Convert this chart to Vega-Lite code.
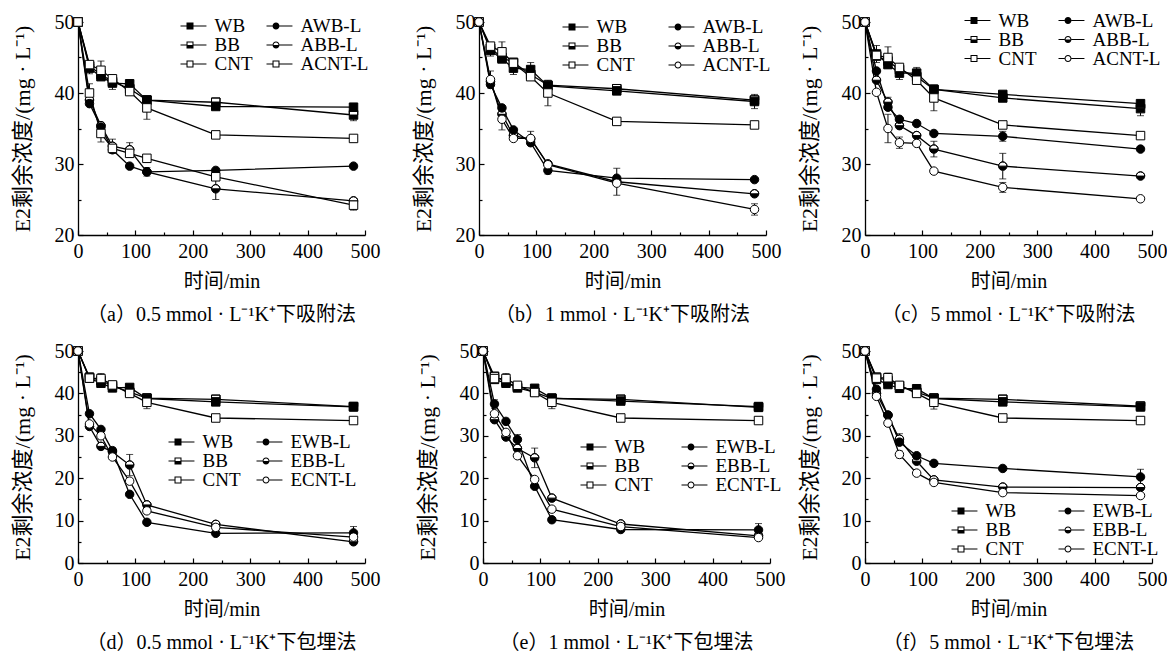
{
"$schema": "https://vega.github.io/schema/vega-lite/v6.json",
"padding": {"left": 11, "top": 12, "right": 0, "bottom": 0},
"background": "white",
"config": {
 "view": {"stroke": null},
 "font": "Liberation Serif, Noto Sans CJK SC",
 "axis": {"domainColor": "black", "domainWidth": 1.3, "tickColor": "black", "tickWidth": 1.2, "labelFont": "Liberation Serif", "labelFontSize": 20, "labelColor": "black", "titleFont": "Liberation Serif, Noto Sans CJK SC", "titleFontSize": 20, "titleFontWeight": "normal", "titleColor": "black", "grid": false, "labelFlush": false, "labelOverlap": false},
 "axisY": {"titleFontSize": 22},
 "title": {"font": "Liberation Serif, Noto Sans CJK SC", "fontSize": 20, "fontWeight": "normal", "color": "black", "orient": "bottom", "offset": 14, "anchor": "middle"},
 "legend": {"labelFont": "Liberation Serif", "labelFontSize": 19, "labelColor": "black", "symbolSize": 49, "labelOffset": 15, "rowPadding": 0, "clipHeight": 16, "padding": 0, "columns": 2, "orient": "none", "title": null, "symbolOpacity": 1, "symbolStrokeWidth": 0, "symbolFillColor": "black"}
},
"datasets": {"d": [
{"p":"a","s":"WB","t":0,"v":50},{"p":"a","s":"WB","t":20,"v":43.5,"e":0.8},{"p":"a","s":"WB","t":40,"v":42.3},{"p":"a","s":"WB","t":60,"v":41.4,"e":0.9},{"p":"a","s":"WB","t":90,"v":41.3},{"p":"a","s":"WB","t":120,"v":39.0},{"p":"a","s":"WB","t":240,"v":38.1},{"p":"a","s":"WB","t":480,"v":38.0},
{"p":"a","s":"BB","t":0,"v":50},{"p":"a","s":"BB","t":20,"v":43.8},{"p":"a","s":"BB","t":40,"v":42.6},{"p":"a","s":"BB","t":60,"v":41.6},{"p":"a","s":"BB","t":90,"v":40.6},{"p":"a","s":"BB","t":120,"v":39.0},{"p":"a","s":"BB","t":240,"v":38.7},{"p":"a","s":"BB","t":480,"v":36.9,"e":0.8},
{"p":"a","s":"CNT","t":0,"v":50},{"p":"a","s":"CNT","t":20,"v":44.0},{"p":"a","s":"CNT","t":40,"v":43.2,"e":1.3},{"p":"a","s":"CNT","t":60,"v":42.0},{"p":"a","s":"CNT","t":90,"v":40.2},{"p":"a","s":"CNT","t":120,"v":37.9,"e":1.6},{"p":"a","s":"CNT","t":240,"v":34.1},{"p":"a","s":"CNT","t":480,"v":33.6},
{"p":"a","s":"AWB-L","t":0,"v":50},{"p":"a","s":"AWB-L","t":20,"v":38.5},{"p":"a","s":"AWB-L","t":40,"v":35.2},{"p":"a","s":"AWB-L","t":60,"v":32.0},{"p":"a","s":"AWB-L","t":90,"v":29.7},{"p":"a","s":"AWB-L","t":120,"v":28.9,"e":0.6},{"p":"a","s":"AWB-L","t":240,"v":29.1},{"p":"a","s":"AWB-L","t":480,"v":29.7},
{"p":"a","s":"ABB-L","t":0,"v":50},{"p":"a","s":"ABB-L","t":20,"v":39.0},{"p":"a","s":"ABB-L","t":40,"v":35.4},{"p":"a","s":"ABB-L","t":60,"v":32.5,"e":1.0},{"p":"a","s":"ABB-L","t":90,"v":32.0,"e":1.0},{"p":"a","s":"ABB-L","t":120,"v":28.9},{"p":"a","s":"ABB-L","t":240,"v":26.5,"e":1.5},{"p":"a","s":"ABB-L","t":480,"v":24.8},
{"p":"a","s":"ACNT-L","t":0,"v":50},{"p":"a","s":"ACNT-L","t":20,"v":40.0,"e":1.3},{"p":"a","s":"ACNT-L","t":40,"v":34.3,"e":1.2},{"p":"a","s":"ACNT-L","t":60,"v":32.2},{"p":"a","s":"ACNT-L","t":90,"v":31.5},{"p":"a","s":"ACNT-L","t":120,"v":30.8},{"p":"a","s":"ACNT-L","t":240,"v":28.2},{"p":"a","s":"ACNT-L","t":480,"v":24.2,"e":0.7},
{"p":"b","s":"WB","t":0,"v":50},{"p":"b","s":"WB","t":20,"v":46.0,"e":0.8},{"p":"b","s":"WB","t":40,"v":44.8},{"p":"b","s":"WB","t":60,"v":43.5,"e":0.9},{"p":"b","s":"WB","t":90,"v":43.3,"e":1.0},{"p":"b","s":"WB","t":120,"v":41.0},{"p":"b","s":"WB","t":240,"v":40.3},{"p":"b","s":"WB","t":480,"v":38.8,"e":1.0},
{"p":"b","s":"BB","t":0,"v":50},{"p":"b","s":"BB","t":20,"v":46.3},{"p":"b","s":"BB","t":40,"v":45.0},{"p":"b","s":"BB","t":60,"v":44.3},{"p":"b","s":"BB","t":90,"v":42.6},{"p":"b","s":"BB","t":120,"v":41.1},{"p":"b","s":"BB","t":240,"v":40.6},{"p":"b","s":"BB","t":480,"v":39.0},
{"p":"b","s":"CNT","t":0,"v":50},{"p":"b","s":"CNT","t":20,"v":46.6},{"p":"b","s":"CNT","t":40,"v":45.8,"e":1.4},{"p":"b","s":"CNT","t":60,"v":44.2},{"p":"b","s":"CNT","t":90,"v":42.3},{"p":"b","s":"CNT","t":120,"v":40.0,"e":1.8},{"p":"b","s":"CNT","t":240,"v":36.0},{"p":"b","s":"CNT","t":480,"v":35.5},
{"p":"b","s":"AWB-L","t":0,"v":50},{"p":"b","s":"AWB-L","t":20,"v":41.2},{"p":"b","s":"AWB-L","t":40,"v":37.9},{"p":"b","s":"AWB-L","t":60,"v":34.8},{"p":"b","s":"AWB-L","t":90,"v":33.0},{"p":"b","s":"AWB-L","t":120,"v":29.1,"e":0.5},{"p":"b","s":"AWB-L","t":240,"v":28.0},{"p":"b","s":"AWB-L","t":480,"v":27.8},
{"p":"b","s":"ABB-L","t":0,"v":50},{"p":"b","s":"ABB-L","t":20,"v":41.6},{"p":"b","s":"ABB-L","t":40,"v":37.0},{"p":"b","s":"ABB-L","t":60,"v":34.0},{"p":"b","s":"ABB-L","t":90,"v":33.5},{"p":"b","s":"ABB-L","t":120,"v":30.0},{"p":"b","s":"ABB-L","t":240,"v":27.5,"e":1.9},{"p":"b","s":"ABB-L","t":480,"v":25.8},
{"p":"b","s":"ACNT-L","t":0,"v":50},{"p":"b","s":"ACNT-L","t":20,"v":41.9,"e":1.2},{"p":"b","s":"ACNT-L","t":40,"v":36.3,"e":1.5},{"p":"b","s":"ACNT-L","t":60,"v":33.6},{"p":"b","s":"ACNT-L","t":90,"v":33.6,"e":1.0},{"p":"b","s":"ACNT-L","t":120,"v":29.9},{"p":"b","s":"ACNT-L","t":240,"v":27.3},{"p":"b","s":"ACNT-L","t":480,"v":23.6,"e":0.8},
{"p":"c","s":"WB","t":0,"v":50},{"p":"c","s":"WB","t":20,"v":45.5,"e":1.2},{"p":"c","s":"WB","t":40,"v":44.0},{"p":"c","s":"WB","t":60,"v":42.8,"e":0.9},{"p":"c","s":"WB","t":90,"v":42.8,"e":0.8},{"p":"c","s":"WB","t":120,"v":40.5},{"p":"c","s":"WB","t":240,"v":39.8},{"p":"c","s":"WB","t":480,"v":38.5},
{"p":"c","s":"BB","t":0,"v":50},{"p":"c","s":"BB","t":20,"v":45.2},{"p":"c","s":"BB","t":40,"v":44.5},{"p":"c","s":"BB","t":60,"v":43.3},{"p":"c","s":"BB","t":90,"v":42.3},{"p":"c","s":"BB","t":120,"v":40.5},{"p":"c","s":"BB","t":240,"v":39.3},{"p":"c","s":"BB","t":480,"v":37.8,"e":1.0},
{"p":"c","s":"CNT","t":0,"v":50},{"p":"c","s":"CNT","t":20,"v":45.3},{"p":"c","s":"CNT","t":40,"v":45.0,"e":1.5},{"p":"c","s":"CNT","t":60,"v":43.6},{"p":"c","s":"CNT","t":90,"v":41.8},{"p":"c","s":"CNT","t":120,"v":39.3,"e":1.8},{"p":"c","s":"CNT","t":240,"v":35.5},{"p":"c","s":"CNT","t":480,"v":34.0},
{"p":"c","s":"AWB-L","t":0,"v":50},{"p":"c","s":"AWB-L","t":20,"v":43.1},{"p":"c","s":"AWB-L","t":40,"v":38.0},{"p":"c","s":"AWB-L","t":60,"v":36.3},{"p":"c","s":"AWB-L","t":90,"v":35.7},{"p":"c","s":"AWB-L","t":120,"v":34.3},{"p":"c","s":"AWB-L","t":240,"v":33.9,"e":0.7},{"p":"c","s":"AWB-L","t":480,"v":32.1},
{"p":"c","s":"ABB-L","t":0,"v":50},{"p":"c","s":"ABB-L","t":20,"v":41.8},{"p":"c","s":"ABB-L","t":40,"v":38.7,"e":0.7},{"p":"c","s":"ABB-L","t":60,"v":35.4},{"p":"c","s":"ABB-L","t":90,"v":34.0},{"p":"c","s":"ABB-L","t":120,"v":32.1,"e":1.1},{"p":"c","s":"ABB-L","t":240,"v":29.7,"e":1.8},{"p":"c","s":"ABB-L","t":480,"v":28.3},
{"p":"c","s":"ACNT-L","t":0,"v":50},{"p":"c","s":"ACNT-L","t":20,"v":40.1},{"p":"c","s":"ACNT-L","t":40,"v":35.0,"e":2.0},{"p":"c","s":"ACNT-L","t":60,"v":33.0,"e":0.8},{"p":"c","s":"ACNT-L","t":90,"v":32.9},{"p":"c","s":"ACNT-L","t":120,"v":29.0},{"p":"c","s":"ACNT-L","t":240,"v":26.7,"e":0.7},{"p":"c","s":"ACNT-L","t":480,"v":25.1},
{"p":"d","s":"WB","t":0,"v":50},{"p":"d","s":"WB","t":20,"v":43.6},{"p":"d","s":"WB","t":40,"v":42.4},{"p":"d","s":"WB","t":60,"v":41.3},{"p":"d","s":"WB","t":90,"v":41.4},{"p":"d","s":"WB","t":120,"v":38.8},{"p":"d","s":"WB","t":240,"v":38.0},{"p":"d","s":"WB","t":480,"v":36.8,"e":0.7},
{"p":"d","s":"BB","t":0,"v":50},{"p":"d","s":"BB","t":20,"v":43.8},{"p":"d","s":"BB","t":40,"v":43.0},{"p":"d","s":"BB","t":60,"v":41.8},{"p":"d","s":"BB","t":90,"v":40.3},{"p":"d","s":"BB","t":120,"v":38.9},{"p":"d","s":"BB","t":240,"v":38.6},{"p":"d","s":"BB","t":480,"v":36.9},
{"p":"d","s":"CNT","t":0,"v":50},{"p":"d","s":"CNT","t":20,"v":43.6},{"p":"d","s":"CNT","t":40,"v":43.5,"e":1.2},{"p":"d","s":"CNT","t":60,"v":42.0},{"p":"d","s":"CNT","t":90,"v":40.0},{"p":"d","s":"CNT","t":120,"v":37.9,"e":1.5},{"p":"d","s":"CNT","t":240,"v":34.2},{"p":"d","s":"CNT","t":480,"v":33.6},
{"p":"d","s":"EWB-L","t":0,"v":50},{"p":"d","s":"EWB-L","t":20,"v":35.2},{"p":"d","s":"EWB-L","t":40,"v":31.5},{"p":"d","s":"EWB-L","t":60,"v":26.5},{"p":"d","s":"EWB-L","t":90,"v":16.2},{"p":"d","s":"EWB-L","t":120,"v":9.6},{"p":"d","s":"EWB-L","t":240,"v":7.0},{"p":"d","s":"EWB-L","t":480,"v":7.1,"e":1.5},
{"p":"d","s":"EBB-L","t":0,"v":50},{"p":"d","s":"EBB-L","t":20,"v":32.2},{"p":"d","s":"EBB-L","t":40,"v":27.5},{"p":"d","s":"EBB-L","t":60,"v":26.2,"e":1.0},{"p":"d","s":"EBB-L","t":90,"v":23.1,"e":2.5},{"p":"d","s":"EBB-L","t":120,"v":13.7},{"p":"d","s":"EBB-L","t":240,"v":9.1},{"p":"d","s":"EBB-L","t":480,"v":5.0},
{"p":"d","s":"ECNT-L","t":0,"v":50},{"p":"d","s":"ECNT-L","t":20,"v":32.8},{"p":"d","s":"ECNT-L","t":40,"v":30.0},{"p":"d","s":"ECNT-L","t":60,"v":25.0},{"p":"d","s":"ECNT-L","t":90,"v":19.3},{"p":"d","s":"ECNT-L","t":120,"v":12.3},{"p":"d","s":"ECNT-L","t":240,"v":8.4},{"p":"d","s":"ECNT-L","t":480,"v":6.1},
{"p":"e","s":"WB","t":0,"v":50},{"p":"e","s":"WB","t":20,"v":43.3},{"p":"e","s":"WB","t":40,"v":42.4},{"p":"e","s":"WB","t":60,"v":41.5},{"p":"e","s":"WB","t":90,"v":41.2},{"p":"e","s":"WB","t":120,"v":38.9},{"p":"e","s":"WB","t":240,"v":38.2},{"p":"e","s":"WB","t":480,"v":36.9},
{"p":"e","s":"BB","t":0,"v":50},{"p":"e","s":"BB","t":20,"v":44.0},{"p":"e","s":"BB","t":40,"v":42.8},{"p":"e","s":"BB","t":60,"v":41.3},{"p":"e","s":"BB","t":90,"v":40.3},{"p":"e","s":"BB","t":120,"v":38.8},{"p":"e","s":"BB","t":240,"v":38.6},{"p":"e","s":"BB","t":480,"v":36.7},
{"p":"e","s":"CNT","t":0,"v":50},{"p":"e","s":"CNT","t":20,"v":43.5},{"p":"e","s":"CNT","t":40,"v":43.5,"e":1.2},{"p":"e","s":"CNT","t":60,"v":41.9},{"p":"e","s":"CNT","t":90,"v":40.2},{"p":"e","s":"CNT","t":120,"v":37.9,"e":1.5},{"p":"e","s":"CNT","t":240,"v":34.2},{"p":"e","s":"CNT","t":480,"v":33.6},
{"p":"e","s":"EWB-L","t":0,"v":50},{"p":"e","s":"EWB-L","t":20,"v":37.5,"e":1.0},{"p":"e","s":"EWB-L","t":40,"v":33.4},{"p":"e","s":"EWB-L","t":60,"v":29.1,"e":1.2},{"p":"e","s":"EWB-L","t":90,"v":18.1},{"p":"e","s":"EWB-L","t":120,"v":10.2},{"p":"e","s":"EWB-L","t":240,"v":7.9},{"p":"e","s":"EWB-L","t":480,"v":7.8,"e":1.5},
{"p":"e","s":"EBB-L","t":0,"v":50},{"p":"e","s":"EBB-L","t":20,"v":33.8},{"p":"e","s":"EBB-L","t":40,"v":29.7},{"p":"e","s":"EBB-L","t":60,"v":27.0},{"p":"e","s":"EBB-L","t":90,"v":24.8,"e":2.3},{"p":"e","s":"EBB-L","t":120,"v":15.3},{"p":"e","s":"EBB-L","t":240,"v":9.2},{"p":"e","s":"EBB-L","t":480,"v":6.4},
{"p":"e","s":"ECNT-L","t":0,"v":50},{"p":"e","s":"ECNT-L","t":20,"v":35.2},{"p":"e","s":"ECNT-L","t":40,"v":30.8},{"p":"e","s":"ECNT-L","t":60,"v":25.3},{"p":"e","s":"ECNT-L","t":90,"v":19.7},{"p":"e","s":"ECNT-L","t":120,"v":12.7},{"p":"e","s":"ECNT-L","t":240,"v":8.6},{"p":"e","s":"ECNT-L","t":480,"v":6.0},
{"p":"f","s":"WB","t":0,"v":50},{"p":"f","s":"WB","t":20,"v":43.3},{"p":"f","s":"WB","t":40,"v":42.1},{"p":"f","s":"WB","t":60,"v":41.2},{"p":"f","s":"WB","t":90,"v":41.1},{"p":"f","s":"WB","t":120,"v":38.8},{"p":"f","s":"WB","t":240,"v":38.0},{"p":"f","s":"WB","t":480,"v":36.8},
{"p":"f","s":"BB","t":0,"v":50},{"p":"f","s":"BB","t":20,"v":43.8},{"p":"f","s":"BB","t":40,"v":43.0},{"p":"f","s":"BB","t":60,"v":41.8},{"p":"f","s":"BB","t":90,"v":40.3},{"p":"f","s":"BB","t":120,"v":38.9},{"p":"f","s":"BB","t":240,"v":38.6},{"p":"f","s":"BB","t":480,"v":37.0},
{"p":"f","s":"CNT","t":0,"v":50},{"p":"f","s":"CNT","t":20,"v":43.6},{"p":"f","s":"CNT","t":40,"v":43.7,"e":1.1},{"p":"f","s":"CNT","t":60,"v":41.9},{"p":"f","s":"CNT","t":90,"v":40.0},{"p":"f","s":"CNT","t":120,"v":37.9,"e":1.6},{"p":"f","s":"CNT","t":240,"v":34.2},{"p":"f","s":"CNT","t":480,"v":33.6},
{"p":"f","s":"EWB-L","t":0,"v":50},{"p":"f","s":"EWB-L","t":20,"v":41.0},{"p":"f","s":"EWB-L","t":40,"v":34.9},{"p":"f","s":"EWB-L","t":60,"v":28.5},{"p":"f","s":"EWB-L","t":90,"v":25.3},{"p":"f","s":"EWB-L","t":120,"v":23.5},{"p":"f","s":"EWB-L","t":240,"v":22.3},{"p":"f","s":"EWB-L","t":480,"v":20.3,"e":1.8},
{"p":"f","s":"EBB-L","t":0,"v":50},{"p":"f","s":"EBB-L","t":20,"v":40.0},{"p":"f","s":"EBB-L","t":40,"v":34.8},{"p":"f","s":"EBB-L","t":60,"v":29.2,"e":1.3},{"p":"f","s":"EBB-L","t":90,"v":24.0},{"p":"f","s":"EBB-L","t":120,"v":19.6},{"p":"f","s":"EBB-L","t":240,"v":17.9},{"p":"f","s":"EBB-L","t":480,"v":17.8},
{"p":"f","s":"ECNT-L","t":0,"v":50},{"p":"f","s":"ECNT-L","t":20,"v":39.3},{"p":"f","s":"ECNT-L","t":40,"v":33.0},{"p":"f","s":"ECNT-L","t":60,"v":25.6,"e":0.8},{"p":"f","s":"ECNT-L","t":90,"v":21.2},{"p":"f","s":"ECNT-L","t":120,"v":19.0},{"p":"f","s":"ECNT-L","t":240,"v":16.6},{"p":"f","s":"ECNT-L","t":480,"v":15.9}
]},
"resolve": {"scale": {"x": "independent", "y": "independent", "shape": "independent", "fill": "independent"}, "legend": {"shape": "independent", "fill": "independent"}},
"spacing": 16,
"vconcat": [
{"hconcat": [
 {"hconcat": [
  {"width": 287, "height": 213, "title": {"text": "（a）0.5 mmol · L⁻¹K⁺下吸附法"},
   "data": {"name": "d"}, "transform": [{"filter": "datum.p == 'a'"}],
   "encoding": {
    "x": {"field": "t", "type": "quantitative", "scale": {"domain": [0, 500]}, "axis": {"title": "时间/min", "values": [0,50,100,150,200,250,300,350,400,450,500], "labelExpr": "datum.value % 100 == 0 ? datum.label : ''", "tickSize": {"condition": {"test": "datum.value % 100 != 0", "value": -3}, "value": -5}, "labelPadding": 11, "titlePadding": 8}},
    "y": {"field": "v", "type": "quantitative", "scale": {"domain": [20, 50]}, "axis": {"title": "E2剩余浓度/(mg · L⁻¹)", "values": [20,25,30,35,40,45,50], "labelExpr": "datum.value % 10 == 0 ? datum.label : ''", "tickSize": {"condition": {"test": "datum.value % 10 != 0", "value": -3}, "value": -5}, "labelPadding": 9, "titlePadding": 20}}
   },
   "layer": [
    {"mark": {"type": "line", "color": "black", "strokeWidth": 1.3}, "encoding": {"detail": {"field": "s"}}},
    {"transform": [{"filter": "datum.e > 0"}], "mark": {"type": "errorbar", "color": "black", "thickness": 1, "ticks": {"size": 7, "thickness": 1, "color": "black"}}, "encoding": {"yError": {"field": "e"}}},
    {"transform": [{"filter": "datum.s == 'BB'"}], "mark": {"type": "point", "shape": "square", "filled": true, "fill": "white", "size": 72, "opacity": 1}},
    {"transform": [{"filter": "datum.s == 'ABB-L'"}], "mark": {"type": "point", "shape": "circle", "filled": true, "fill": "white", "size": 72, "opacity": 1}},
    {"mark": {"type": "point", "filled": true, "stroke": "black", "strokeWidth": 1, "size": 72, "opacity": 1},
     "encoding": {
      "shape": {"field": "s", "scale": {"domain": ["WB","BB","CNT","AWB-L","ABB-L","ACNT-L"], "range": ["M-1 -1H1V1H-1Z", "M-1 -1H1V1H-1ZM-1 -1V0H1V-1Z", "M-1 -1H1V1H-1Z", "M-1 0A1 1 0 1 1 1 0A1 1 0 1 1 -1 0Z", "M-1 0A1 1 0 1 1 1 0A1 1 0 1 1 -1 0ZM1 0A1 1 0 0 0 -1 0Z", "M-1 -1H1V1H-1Z"]}, "legend": null},
      "fill": {"field": "s", "scale": {"domain": ["WB","BB","CNT","AWB-L","ABB-L","ACNT-L"], "range": ["black","black","white","black","black","white"]}, "legend": null}
     }},
    {"mark": {"type": "point", "filled": true, "color": "black", "size": 49, "opacity": 0},
     "encoding": {
      "shape": {"field": "s", "scale": {"domain": ["WB","BB","CNT","AWB-L","ABB-L","ACNT-L"], "range": [
        "M-4.7 -0.17H-1V0.17H-4.7ZM1 -0.17H4.7V0.17H1ZM-1 -1H1V1H-1Z",
        "M-4.7 -0.17H-1V0.17H-4.7ZM1 -0.17H4.7V0.17H1ZM-1 -1H1V1H-1ZM-0.7 -0.7V0H0.7V-0.7Z",
        "M-4.7 -0.17H-1V0.17H-4.7ZM1 -0.17H4.7V0.17H1ZM-1 -1H1V1H-1ZM-0.7 -0.7V0.7H0.7V-0.7Z",
        "M-4.7 -0.17H-1V0.17H-4.7ZM1 -0.17H4.7V0.17H1ZM-1 0A1 1 0 1 1 1 0A1 1 0 1 1 -1 0Z",
        "M-4.7 -0.17H-1V0.17H-4.7ZM1 -0.17H4.7V0.17H1ZM-1 0A1 1 0 1 1 1 0A1 1 0 1 1 -1 0ZM0.7 0A0.7 0.7 0 0 0 -0.7 0Z",
        "M-4.7 -0.17H-1V0.17H-4.7ZM1 -0.17H4.7V0.17H1ZM-1 -1H1V1H-1ZM-0.7 -0.7V0.7H0.7V-0.7Z"]},
       "legend": {"legendX": 102.5, "legendY": -4, "columnPadding": 14}}
     }}
   ],
   "resolve": {"scale": {"shape": "independent", "fill": "independent"}}
  },
  {"width": 287, "height": 213, "title": {"text": "（b）1 mmol · L⁻¹K⁺下吸附法"},
   "data": {"name": "d"}, "transform": [{"filter": "datum.p == 'b'"}],
   "encoding": {
    "x": {"field": "t", "type": "quantitative", "scale": {"domain": [0, 500]}, "axis": {"title": "时间/min", "values": [0,50,100,150,200,250,300,350,400,450,500], "labelExpr": "datum.value % 100 == 0 ? datum.label : ''", "tickSize": {"condition": {"test": "datum.value % 100 != 0", "value": -3}, "value": -5}, "labelPadding": 11, "titlePadding": 8}},
    "y": {"field": "v", "type": "quantitative", "scale": {"domain": [20, 50]}, "axis": {"title": "E2剩余浓度/(mg · L⁻¹)", "values": [20,25,30,35,40,45,50], "labelExpr": "datum.value % 10 == 0 ? datum.label : ''", "tickSize": {"condition": {"test": "datum.value % 10 != 0", "value": -3}, "value": -5}, "labelPadding": 9, "titlePadding": 20}}
   },
   "layer": [
    {"mark": {"type": "line", "color": "black", "strokeWidth": 1.3}, "encoding": {"detail": {"field": "s"}}},
    {"transform": [{"filter": "datum.e > 0"}], "mark": {"type": "errorbar", "color": "black", "thickness": 1, "ticks": {"size": 7, "thickness": 1, "color": "black"}}, "encoding": {"yError": {"field": "e"}}},
    {"transform": [{"filter": "datum.s == 'BB'"}], "mark": {"type": "point", "shape": "square", "filled": true, "fill": "white", "size": 72, "opacity": 1}},
    {"transform": [{"filter": "datum.s == 'ABB-L'"}], "mark": {"type": "point", "shape": "circle", "filled": true, "fill": "white", "size": 72, "opacity": 1}},
    {"mark": {"type": "point", "filled": true, "stroke": "black", "strokeWidth": 1, "size": 72, "opacity": 1},
     "encoding": {
      "shape": {"field": "s", "scale": {"domain": ["WB","BB","CNT","AWB-L","ABB-L","ACNT-L"], "range": ["M-1 -1H1V1H-1Z", "M-1 -1H1V1H-1ZM-1 -1V0H1V-1Z", "M-1 -1H1V1H-1Z", "M-1 0A1 1 0 1 1 1 0A1 1 0 1 1 -1 0Z", "M-1 0A1 1 0 1 1 1 0A1 1 0 1 1 -1 0ZM1 0A1 1 0 0 0 -1 0Z", "M-1 0A1 1 0 1 1 1 0A1 1 0 1 1 -1 0Z"]}, "legend": null},
      "fill": {"field": "s", "scale": {"domain": ["WB","BB","CNT","AWB-L","ABB-L","ACNT-L"], "range": ["black","black","white","black","black","white"]}, "legend": null}
     }},
    {"mark": {"type": "point", "filled": true, "color": "black", "size": 49, "opacity": 0},
     "encoding": {
      "shape": {"field": "s", "scale": {"domain": ["WB","BB","CNT","AWB-L","ABB-L","ACNT-L"], "range": [
        "M-4.7 -0.17H-1V0.17H-4.7ZM1 -0.17H4.7V0.17H1ZM-1 -1H1V1H-1Z",
        "M-4.7 -0.17H-1V0.17H-4.7ZM1 -0.17H4.7V0.17H1ZM-1 -1H1V1H-1ZM-0.7 -0.7V0H0.7V-0.7Z",
        "M-4.7 -0.17H-1V0.17H-4.7ZM1 -0.17H4.7V0.17H1ZM-1 -1H1V1H-1ZM-0.7 -0.7V0.7H0.7V-0.7Z",
        "M-4.7 -0.17H-1V0.17H-4.7ZM1 -0.17H4.7V0.17H1ZM-1 0A1 1 0 1 1 1 0A1 1 0 1 1 -1 0Z",
        "M-4.7 -0.17H-1V0.17H-4.7ZM1 -0.17H4.7V0.17H1ZM-1 0A1 1 0 1 1 1 0A1 1 0 1 1 -1 0ZM0.7 0A0.7 0.7 0 0 0 -0.7 0Z",
        "M-4.7 -0.17H-1V0.17H-4.7ZM1 -0.17H4.7V0.17H1ZM-1 0A1 1 0 1 1 1 0A1 1 0 1 1 -1 0ZM0.7 0A0.7 0.7 0 1 0 -0.7 0A0.7 0.7 0 1 0 0.7 0Z"]},
       "legend": {"legendX": 83.5, "legendY": -3, "columnPadding": 34}}
     }}
   ],
   "resolve": {"scale": {"shape": "independent", "fill": "independent"}}
  }
 ], "spacing": 32, "resolve": {"scale": {"x": "independent", "y": "independent", "shape": "independent", "fill": "independent"}, "legend": {"shape": "independent", "fill": "independent"}}},
 {"width": 287, "height": 213, "title": {"text": "（c）5 mmol · L⁻¹K⁺下吸附法"},
   "data": {"name": "d"}, "transform": [{"filter": "datum.p == 'c'"}],
   "encoding": {
    "x": {"field": "t", "type": "quantitative", "scale": {"domain": [0, 500]}, "axis": {"title": "时间/min", "values": [0,50,100,150,200,250,300,350,400,450,500], "labelExpr": "datum.value % 100 == 0 ? datum.label : ''", "tickSize": {"condition": {"test": "datum.value % 100 != 0", "value": -3}, "value": -5}, "labelPadding": 11, "titlePadding": 8}},
    "y": {"field": "v", "type": "quantitative", "scale": {"domain": [20, 50]}, "axis": {"title": "E2剩余浓度/(mg · L⁻¹)", "values": [20,25,30,35,40,45,50], "labelExpr": "datum.value % 10 == 0 ? datum.label : ''", "tickSize": {"condition": {"test": "datum.value % 10 != 0", "value": -3}, "value": -5}, "labelPadding": 9, "titlePadding": 20}}
   },
   "layer": [
    {"mark": {"type": "line", "color": "black", "strokeWidth": 1.3}, "encoding": {"detail": {"field": "s"}}},
    {"transform": [{"filter": "datum.e > 0"}], "mark": {"type": "errorbar", "color": "black", "thickness": 1, "ticks": {"size": 7, "thickness": 1, "color": "black"}}, "encoding": {"yError": {"field": "e"}}},
    {"transform": [{"filter": "datum.s == 'BB'"}], "mark": {"type": "point", "shape": "square", "filled": true, "fill": "white", "size": 72, "opacity": 1}},
    {"transform": [{"filter": "datum.s == 'ABB-L'"}], "mark": {"type": "point", "shape": "circle", "filled": true, "fill": "white", "size": 72, "opacity": 1}},
    {"mark": {"type": "point", "filled": true, "stroke": "black", "strokeWidth": 1, "size": 72, "opacity": 1},
     "encoding": {
      "shape": {"field": "s", "scale": {"domain": ["WB","BB","CNT","AWB-L","ABB-L","ACNT-L"], "range": ["M-1 -1H1V1H-1Z", "M-1 -1H1V1H-1ZM-1 -1V0H1V-1Z", "M-1 -1H1V1H-1Z", "M-1 0A1 1 0 1 1 1 0A1 1 0 1 1 -1 0Z", "M-1 0A1 1 0 1 1 1 0A1 1 0 1 1 -1 0ZM1 0A1 1 0 0 0 -1 0Z", "M-1 0A1 1 0 1 1 1 0A1 1 0 1 1 -1 0Z"]}, "legend": null},
      "fill": {"field": "s", "scale": {"domain": ["WB","BB","CNT","AWB-L","ABB-L","ACNT-L"], "range": ["black","black","white","black","black","white"]}, "legend": null}
     }},
    {"mark": {"type": "point", "filled": true, "color": "black", "size": 49, "opacity": 0},
     "encoding": {
      "shape": {"field": "s", "scale": {"domain": ["WB","BB","CNT","AWB-L","ABB-L","ACNT-L"], "range": [
        "M-4.7 -0.17H-1V0.17H-4.7ZM1 -0.17H4.7V0.17H1ZM-1 -1H1V1H-1Z",
        "M-4.7 -0.17H-1V0.17H-4.7ZM1 -0.17H4.7V0.17H1ZM-1 -1H1V1H-1ZM-0.7 -0.7V0H0.7V-0.7Z",
        "M-4.7 -0.17H-1V0.17H-4.7ZM1 -0.17H4.7V0.17H1ZM-1 -1H1V1H-1ZM-0.7 -0.7V0.7H0.7V-0.7Z",
        "M-4.7 -0.17H-1V0.17H-4.7ZM1 -0.17H4.7V0.17H1ZM-1 0A1 1 0 1 1 1 0A1 1 0 1 1 -1 0Z",
        "M-4.7 -0.17H-1V0.17H-4.7ZM1 -0.17H4.7V0.17H1ZM-1 0A1 1 0 1 1 1 0A1 1 0 1 1 -1 0ZM0.7 0A0.7 0.7 0 0 0 -0.7 0Z",
        "M-4.7 -0.17H-1V0.17H-4.7ZM1 -0.17H4.7V0.17H1ZM-1 0A1 1 0 1 1 1 0A1 1 0 1 1 -1 0ZM0.7 0A0.7 0.7 0 1 0 -0.7 0A0.7 0.7 0 1 0 0.7 0Z"]},
       "legend": {"legendX": 99.5, "legendY": -9.5, "columnPadding": 22}}
     }}
   ],
   "resolve": {"scale": {"shape": "independent", "fill": "independent"}}
  }
], "spacing": 17, "resolve": {"scale": {"x": "independent", "y": "independent", "shape": "independent", "fill": "independent"}, "legend": {"shape": "independent", "fill": "independent"}}},
{"hconcat": [
 {"hconcat": [
  {"width": 287, "height": 212, "title": {"text": "（d）0.5 mmol · L⁻¹K⁺下包埋法"},
   "data": {"name": "d"}, "transform": [{"filter": "datum.p == 'd'"}],
   "encoding": {
    "x": {"field": "t", "type": "quantitative", "scale": {"domain": [0, 500]}, "axis": {"title": "时间/min", "values": [0,50,100,150,200,250,300,350,400,450,500], "labelExpr": "datum.value % 100 == 0 ? datum.label : ''", "tickSize": {"condition": {"test": "datum.value % 100 != 0", "value": -3}, "value": -5}, "labelPadding": 11, "titlePadding": 8}},
    "y": {"field": "v", "type": "quantitative", "scale": {"domain": [0, 50]}, "axis": {"title": "E2剩余浓度/(mg · L⁻¹)", "values": [0,5,10,15,20,25,30,35,40,45,50], "labelExpr": "datum.value % 10 == 0 ? datum.label : ''", "tickSize": {"condition": {"test": "datum.value % 10 != 0", "value": -3}, "value": -5}, "labelPadding": 9, "titlePadding": 20}}
   },
   "layer": [
    {"mark": {"type": "line", "color": "black", "strokeWidth": 1.3}, "encoding": {"detail": {"field": "s"}}},
    {"transform": [{"filter": "datum.e > 0"}], "mark": {"type": "errorbar", "color": "black", "thickness": 1, "ticks": {"size": 7, "thickness": 1, "color": "black"}}, "encoding": {"yError": {"field": "e"}}},
    {"transform": [{"filter": "datum.s == 'BB'"}], "mark": {"type": "point", "shape": "square", "filled": true, "fill": "white", "size": 72, "opacity": 1}},
    {"transform": [{"filter": "datum.s == 'EBB-L'"}], "mark": {"type": "point", "shape": "circle", "filled": true, "fill": "white", "size": 72, "opacity": 1}},
    {"mark": {"type": "point", "filled": true, "stroke": "black", "strokeWidth": 1, "size": 72, "opacity": 1},
     "encoding": {
      "shape": {"field": "s", "scale": {"domain": ["WB","BB","CNT","EWB-L","EBB-L","ECNT-L"], "range": ["M-1 -1H1V1H-1Z", "M-1 -1H1V1H-1ZM-1 -1V0H1V-1Z", "M-1 -1H1V1H-1Z", "M-1 0A1 1 0 1 1 1 0A1 1 0 1 1 -1 0Z", "M-1 0A1 1 0 1 1 1 0A1 1 0 1 1 -1 0ZM1 0A1 1 0 0 0 -1 0Z", "M-1 0A1 1 0 1 1 1 0A1 1 0 1 1 -1 0Z"]}, "legend": null},
      "fill": {"field": "s", "scale": {"domain": ["WB","BB","CNT","EWB-L","EBB-L","ECNT-L"], "range": ["black","black","white","black","black","white"]}, "legend": null}
     }},
    {"mark": {"type": "point", "filled": true, "color": "black", "size": 49, "opacity": 0},
     "encoding": {
      "shape": {"field": "s", "scale": {"domain": ["WB","BB","CNT","EWB-L","EBB-L","ECNT-L"], "range": [
        "M-4.7 -0.17H-1V0.17H-4.7ZM1 -0.17H4.7V0.17H1ZM-1 -1H1V1H-1Z",
        "M-4.7 -0.17H-1V0.17H-4.7ZM1 -0.17H4.7V0.17H1ZM-1 -1H1V1H-1ZM-0.7 -0.7V0H0.7V-0.7Z",
        "M-4.7 -0.17H-1V0.17H-4.7ZM1 -0.17H4.7V0.17H1ZM-1 -1H1V1H-1ZM-0.7 -0.7V0.7H0.7V-0.7Z",
        "M-4.7 -0.17H-1V0.17H-4.7ZM1 -0.17H4.7V0.17H1ZM-1 0A1 1 0 1 1 1 0A1 1 0 1 1 -1 0Z",
        "M-4.7 -0.17H-1V0.17H-4.7ZM1 -0.17H4.7V0.17H1ZM-1 0A1 1 0 1 1 1 0A1 1 0 1 1 -1 0ZM0.7 0A0.7 0.7 0 0 0 -0.7 0Z",
        "M-4.7 -0.17H-1V0.17H-4.7ZM1 -0.17H4.7V0.17H1ZM-1 0A1 1 0 1 1 1 0A1 1 0 1 1 -1 0ZM0.7 0A0.7 0.7 0 1 0 -0.7 0A0.7 0.7 0 1 0 0.7 0Z"]},
       "legend": {"legendX": 90.5, "legendY": 83, "columnPadding": 16}}
     }}
   ],
   "resolve": {"scale": {"shape": "independent", "fill": "independent"}}
  },
  {"width": 287, "height": 212, "title": {"text": "（e）1 mmol · L⁻¹K⁺下包埋法"},
   "data": {"name": "d"}, "transform": [{"filter": "datum.p == 'e'"}],
   "encoding": {
    "x": {"field": "t", "type": "quantitative", "scale": {"domain": [0, 500]}, "axis": {"title": "时间/min", "values": [0,50,100,150,200,250,300,350,400,450,500], "labelExpr": "datum.value % 100 == 0 ? datum.label : ''", "tickSize": {"condition": {"test": "datum.value % 100 != 0", "value": -3}, "value": -5}, "labelPadding": 11, "titlePadding": 8}},
    "y": {"field": "v", "type": "quantitative", "scale": {"domain": [0, 50]}, "axis": {"title": "E2剩余浓度/(mg · L⁻¹)", "values": [0,5,10,15,20,25,30,35,40,45,50], "labelExpr": "datum.value % 10 == 0 ? datum.label : ''", "tickSize": {"condition": {"test": "datum.value % 10 != 0", "value": -3}, "value": -5}, "labelPadding": 9, "titlePadding": 20}}
   },
   "layer": [
    {"mark": {"type": "line", "color": "black", "strokeWidth": 1.3}, "encoding": {"detail": {"field": "s"}}},
    {"transform": [{"filter": "datum.e > 0"}], "mark": {"type": "errorbar", "color": "black", "thickness": 1, "ticks": {"size": 7, "thickness": 1, "color": "black"}}, "encoding": {"yError": {"field": "e"}}},
    {"transform": [{"filter": "datum.s == 'BB'"}], "mark": {"type": "point", "shape": "square", "filled": true, "fill": "white", "size": 72, "opacity": 1}},
    {"transform": [{"filter": "datum.s == 'EBB-L'"}], "mark": {"type": "point", "shape": "circle", "filled": true, "fill": "white", "size": 72, "opacity": 1}},
    {"mark": {"type": "point", "filled": true, "stroke": "black", "strokeWidth": 1, "size": 72, "opacity": 1},
     "encoding": {
      "shape": {"field": "s", "scale": {"domain": ["WB","BB","CNT","EWB-L","EBB-L","ECNT-L"], "range": ["M-1 -1H1V1H-1Z", "M-1 -1H1V1H-1ZM-1 -1V0H1V-1Z", "M-1 -1H1V1H-1Z", "M-1 0A1 1 0 1 1 1 0A1 1 0 1 1 -1 0Z", "M-1 0A1 1 0 1 1 1 0A1 1 0 1 1 -1 0ZM1 0A1 1 0 0 0 -1 0Z", "M-1 0A1 1 0 1 1 1 0A1 1 0 1 1 -1 0Z"]}, "legend": null},
      "fill": {"field": "s", "scale": {"domain": ["WB","BB","CNT","EWB-L","EBB-L","ECNT-L"], "range": ["black","black","white","black","black","white"]}, "legend": null}
     }},
    {"mark": {"type": "point", "filled": true, "color": "black", "size": 49, "opacity": 0},
     "encoding": {
      "shape": {"field": "s", "scale": {"domain": ["WB","BB","CNT","EWB-L","EBB-L","ECNT-L"], "range": [
        "M-4.7 -0.17H-1V0.17H-4.7ZM1 -0.17H4.7V0.17H1ZM-1 -1H1V1H-1Z",
        "M-4.7 -0.17H-1V0.17H-4.7ZM1 -0.17H4.7V0.17H1ZM-1 -1H1V1H-1ZM-0.7 -0.7V0H0.7V-0.7Z",
        "M-4.7 -0.17H-1V0.17H-4.7ZM1 -0.17H4.7V0.17H1ZM-1 -1H1V1H-1ZM-0.7 -0.7V0.7H0.7V-0.7Z",
        "M-4.7 -0.17H-1V0.17H-4.7ZM1 -0.17H4.7V0.17H1ZM-1 0A1 1 0 1 1 1 0A1 1 0 1 1 -1 0Z",
        "M-4.7 -0.17H-1V0.17H-4.7ZM1 -0.17H4.7V0.17H1ZM-1 0A1 1 0 1 1 1 0A1 1 0 1 1 -1 0ZM0.7 0A0.7 0.7 0 0 0 -0.7 0Z",
        "M-4.7 -0.17H-1V0.17H-4.7ZM1 -0.17H4.7V0.17H1ZM-1 0A1 1 0 1 1 1 0A1 1 0 1 1 -1 0ZM0.7 0A0.7 0.7 0 1 0 -0.7 0A0.7 0.7 0 1 0 0.7 0Z"]},
       "legend": {"legendX": 97.5, "legendY": 88, "columnPadding": 29}}
     }}
   ],
   "resolve": {"scale": {"shape": "independent", "fill": "independent"}}
  }
 ], "spacing": 36, "resolve": {"scale": {"x": "independent", "y": "independent", "shape": "independent", "fill": "independent"}, "legend": {"shape": "independent", "fill": "independent"}}},
 {"width": 287, "height": 212, "title": {"text": "（f）5 mmol · L⁻¹K⁺下包埋法"},
   "data": {"name": "d"}, "transform": [{"filter": "datum.p == 'f'"}],
   "encoding": {
    "x": {"field": "t", "type": "quantitative", "scale": {"domain": [0, 500]}, "axis": {"title": "时间/min", "values": [0,50,100,150,200,250,300,350,400,450,500], "labelExpr": "datum.value % 100 == 0 ? datum.label : ''", "tickSize": {"condition": {"test": "datum.value % 100 != 0", "value": -3}, "value": -5}, "labelPadding": 11, "titlePadding": 8}},
    "y": {"field": "v", "type": "quantitative", "scale": {"domain": [0, 50]}, "axis": {"title": "E2剩余浓度/(mg · L⁻¹)", "values": [0,5,10,15,20,25,30,35,40,45,50], "labelExpr": "datum.value % 10 == 0 ? datum.label : ''", "tickSize": {"condition": {"test": "datum.value % 10 != 0", "value": -3}, "value": -5}, "labelPadding": 9, "titlePadding": 20}}
   },
   "layer": [
    {"mark": {"type": "line", "color": "black", "strokeWidth": 1.3}, "encoding": {"detail": {"field": "s"}}},
    {"transform": [{"filter": "datum.e > 0"}], "mark": {"type": "errorbar", "color": "black", "thickness": 1, "ticks": {"size": 7, "thickness": 1, "color": "black"}}, "encoding": {"yError": {"field": "e"}}},
    {"transform": [{"filter": "datum.s == 'BB'"}], "mark": {"type": "point", "shape": "square", "filled": true, "fill": "white", "size": 72, "opacity": 1}},
    {"transform": [{"filter": "datum.s == 'EBB-L'"}], "mark": {"type": "point", "shape": "circle", "filled": true, "fill": "white", "size": 72, "opacity": 1}},
    {"mark": {"type": "point", "filled": true, "stroke": "black", "strokeWidth": 1, "size": 72, "opacity": 1},
     "encoding": {
      "shape": {"field": "s", "scale": {"domain": ["WB","BB","CNT","EWB-L","EBB-L","ECNT-L"], "range": ["M-1 -1H1V1H-1Z", "M-1 -1H1V1H-1ZM-1 -1V0H1V-1Z", "M-1 -1H1V1H-1Z", "M-1 0A1 1 0 1 1 1 0A1 1 0 1 1 -1 0Z", "M-1 0A1 1 0 1 1 1 0A1 1 0 1 1 -1 0ZM1 0A1 1 0 0 0 -1 0Z", "M-1 0A1 1 0 1 1 1 0A1 1 0 1 1 -1 0Z"]}, "legend": null},
      "fill": {"field": "s", "scale": {"domain": ["WB","BB","CNT","EWB-L","EBB-L","ECNT-L"], "range": ["black","black","white","black","black","white"]}, "legend": null}
     }},
    {"mark": {"type": "point", "filled": true, "color": "black", "size": 49, "opacity": 0},
     "encoding": {
      "shape": {"field": "s", "scale": {"domain": ["WB","BB","CNT","EWB-L","EBB-L","ECNT-L"], "range": [
        "M-4.7 -0.17H-1V0.17H-4.7ZM1 -0.17H4.7V0.17H1ZM-1 -1H1V1H-1Z",
        "M-4.7 -0.17H-1V0.17H-4.7ZM1 -0.17H4.7V0.17H1ZM-1 -1H1V1H-1ZM-0.7 -0.7V0H0.7V-0.7Z",
        "M-4.7 -0.17H-1V0.17H-4.7ZM1 -0.17H4.7V0.17H1ZM-1 -1H1V1H-1ZM-0.7 -0.7V0.7H0.7V-0.7Z",
        "M-4.7 -0.17H-1V0.17H-4.7ZM1 -0.17H4.7V0.17H1ZM-1 0A1 1 0 1 1 1 0A1 1 0 1 1 -1 0Z",
        "M-4.7 -0.17H-1V0.17H-4.7ZM1 -0.17H4.7V0.17H1ZM-1 0A1 1 0 1 1 1 0A1 1 0 1 1 -1 0ZM0.7 0A0.7 0.7 0 0 0 -0.7 0Z",
        "M-4.7 -0.17H-1V0.17H-4.7ZM1 -0.17H4.7V0.17H1ZM-1 0A1 1 0 1 1 1 0A1 1 0 1 1 -1 0ZM0.7 0A0.7 0.7 0 1 0 -0.7 0A0.7 0.7 0 1 0 0.7 0Z"]},
       "legend": {"legendX": 86.5, "legendY": 152, "columnPadding": 35}}
     }}
   ],
   "resolve": {"scale": {"shape": "independent", "fill": "independent"}}
  }
], "spacing": 13, "resolve": {"scale": {"x": "independent", "y": "independent", "shape": "independent", "fill": "independent"}, "legend": {"shape": "independent", "fill": "independent"}}}
]
}
